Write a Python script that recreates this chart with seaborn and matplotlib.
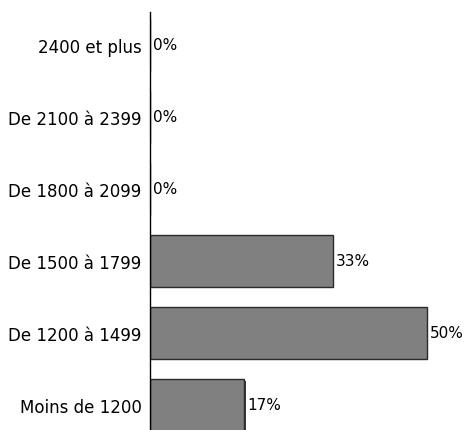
import matplotlib
matplotlib.use("Agg")
import matplotlib.pyplot as plt
import matplotlib.patheffects as pe
import seaborn as sns
import pandas as pd

categories = ["2400 et plus", "De 2100 à 2399", "De 1800 à 2099",
              "De 1500 à 1799", "De 1200 à 1499", "Moins de 1200"]
values = [0, 0, 0, 33, 50, 17]
value_labels = ["0%", "0%", "0%", "33%", "50%", "17%"]

df = pd.DataFrame({"cat": categories, "val": values})

sns.set_theme(style="white")
plt.rcParams["font.family"] = ["DejaVu Sans"]

W, H = 465, 431
fig = plt.figure(figsize=(W / 100, H / 100), dpi=100)
ax_left, ax_top, ax_bottom, ax_right = 150, 13, 431, 465
ax = fig.add_axes([ax_left / W, 1 - ax_bottom / H, (ax_right - ax_left) / W, (ax_bottom - ax_top) / H])

sns.barplot(data=df, y="cat", x="val", orient="h", ax=ax, color="#808080",
            saturation=1, width=0.71, edgecolor="#2a2a2a", linewidth=1.0)
for p in ax.patches:
    p.set_path_effects([pe.SimplePatchShadow(offset=(1.2, -1.2), shadow_rgbFace="#404040", alpha=1.0), pe.Normal()])

ax.set_xlim(0, 56.9)
ax.set_ylim(5 + 25 / 72, -33 / 72)
ax.set_xlabel("")
ax.set_ylabel("")
ax.set_xticks([])
for s in ["top", "right", "bottom"]:
    ax.spines[s].set_visible(False)
ax.spines["left"].set_color("black")
ax.spines["left"].set_linewidth(1.0)
ax.tick_params(axis="y", length=0, pad=6, labelsize=12, colors="black")

for i, (v, lab) in enumerate(zip(values, value_labels)):
    ax.annotate(lab, xy=(v, i), xytext=(3.5 if v > 0 else 3.5, 0), textcoords="offset pixels",
                va="center", ha="left", fontsize=11, color="black")

fig.savefig("out.png", dpi=100)
